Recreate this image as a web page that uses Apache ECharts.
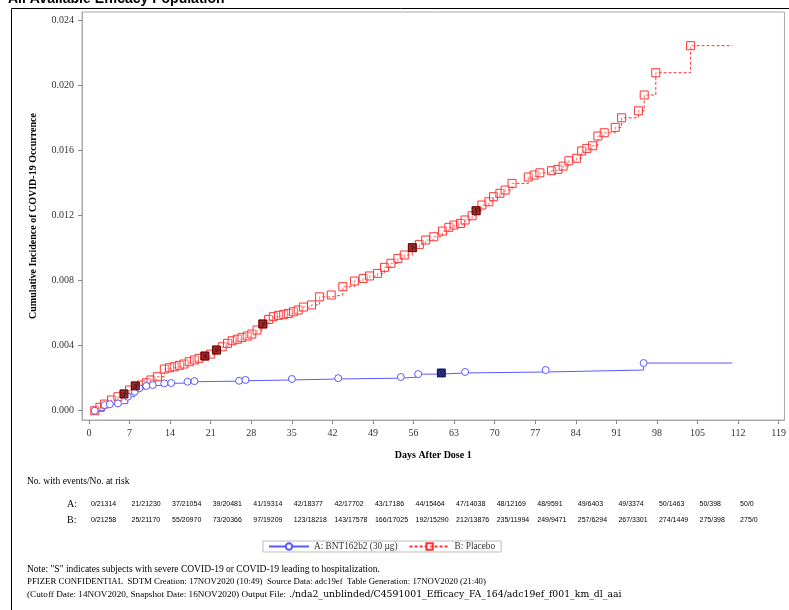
<!DOCTYPE html>
<html><head><meta charset="utf-8">
<script src="https://cdn.jsdelivr.net/npm/echarts@6/dist/echarts.min.js"></script>
<style>html,body{margin:0;padding:0;background:#fff}#c{width:789px;height:610px}</style>
</head><body><div id="c"></div>
<script>
// ---- data ----
const xTicks = [0,7,14,21,28,35,42,49,56,63,70,77,84,91,98,105,112,119];
const yTicks = [0,0.004,0.008,0.012,0.016,0.020,0.024];

const blueDays = [1.0,2.7,3.6,5.0,6.7,7.9,8.7,9.9,11.0,13.0,14.2,17.0,18.2,25.9,27.0,35.0,43.0,53.8,56.8,60.8,64.9,78.8,95.7];
const blueVals = [0.00000,0.00035,0.00040,0.00045,0.00086,0.00117,0.00138,0.00152,0.00158,0.00168,0.00170,0.00178,0.00182,0.00184,0.00189,0.00195,0.00200,0.00207,0.00225,0.00232,0.00238,0.00250,0.00293];
const blueEndDay = 111;

const redDays = [1.0,1.9,2.7,3.9,5.0,6.05,7.0,8.0,9.0,9.9,10.7,11.8,13.0,13.9,14.7,15.6,16.4,17.3,18.2,19.0,20.0,21.0,22.0,23.0,23.9,24.7,25.6,26.4,27.3,28.1,29.0,30.0,31.0,31.8,32.7,33.6,34.4,35.3,36.1,37.0,38.4,39.8,41.8,43.8,45.8,47.3,48.4,49.8,51.0,52.1,53.3,54.4,55.8,57.0,58.1,59.5,61.0,62.1,63.0,64.1,64.9,66.1,66.8,67.8,69.0,69.8,70.9,71.8,73.0,75.8,76.8,77.8,79.8,80.9,81.8,82.8,84.1,85.0,85.9,86.9,87.8,88.9,90.8,91.9,94.8,95.8,97.8,103.8];
const redVals = [0.00000,0.00021,0.00041,0.00066,0.00086,0.00103,0.00127,0.00152,0.00158,0.00172,0.00189,0.00209,0.00256,0.00264,0.00270,0.00279,0.00287,0.00301,0.00312,0.00322,0.00336,0.00348,0.00373,0.00393,0.00414,0.00430,0.00439,0.00449,0.00459,0.00471,0.00496,0.00533,0.00561,0.00578,0.00586,0.00592,0.00598,0.00608,0.00619,0.00637,0.00650,0.00700,0.00711,0.00762,0.00797,0.00813,0.00828,0.00844,0.00881,0.00906,0.00936,0.00957,0.01002,0.01022,0.01049,0.01069,0.01104,0.01127,0.01141,0.01151,0.01172,0.01198,0.01229,0.01264,0.01284,0.01315,0.01336,0.01356,0.01397,0.01436,0.01448,0.01462,0.01475,0.01483,0.01503,0.01536,0.01551,0.01596,0.01612,0.01628,0.01688,0.01708,0.01741,0.01800,0.01843,0.01940,0.02077,0.02243];
const redEndDay = 111;

const severeRedDays = [6.05,8.0,20.0,22.0,30.0,55.8,66.8];
const severeRedVals = [0.00103,0.00152,0.00336,0.00373,0.00533,0.01002,0.01229];
const severeBlueDays = [60.8];
const severeBlueVals = [0.00232];

const riskDays = [0,7,14,21,28,35,42,49,56,63,70,77,84,91,98,105,112];
const riskA = ['0/21314','21/21230','37/21054','39/20481','41/19314','42/18377','42/17702','43/17186','44/15464','47/14038','48/12169','48/9591','49/6403','49/3374','50/1463','50/398','50/0'];
const riskB = ['0/21258','25/21170','55/20970','73/20366','97/19209','123/18218','143/17578','166/17025','192/15290','212/13876','235/11994','249/9471','257/6294','267/3301','274/1449','275/398','275/0'];

const nameA = 'A: BNT162b2 (30 µg)';
const nameB = 'B: Placebo';

// ---- build ----
function pairs(d, v, endDay){
  const out = d.map((x,i)=>[x,v[i]]);
  if (endDay != null) out.push({value:[endDay, v[v.length-1]], symbol:'none'});
  return out;
}
const SERIF = '"Liberation Serif","Times New Roman",serif';
const BLUE = '#5a5aff', RED = '#ff3333';

const chart = echarts.init(document.getElementById('c'), null, {renderer:'canvas'});
const option = {
  animation:false,
  textStyle:{fontFamily:SERIF},
  grid:{left:82, top:12, right:4, bottom:190, show:true, borderColor:'#aaa', borderWidth:1},
  xAxis:{type:'value', min:-1.2, max:120,
    name:'Days After Dose 1', nameLocation:'middle', nameGap:30,
    nameTextStyle:{fontFamily:SERIF, fontWeight:'bold', fontSize:10, color:'#000'},
    axisLine:{onZero:false, lineStyle:{color:'#aaa'}},
    axisTick:{show:true, length:4, lineStyle:{color:'#888'}, customValues:xTicks},
    axisLabel:{fontFamily:SERIF, fontSize:10, color:'#333', margin:8, customValues:xTicks},
    splitLine:{show:false}},
  yAxis:{type:'value', min:-0.00057, max:0.0245,
    name:'Cumulative Incidence of COVID-19 Occurrence', nameLocation:'middle', nameGap:44, nameRotate:90,
    nameTextStyle:{fontFamily:SERIF, fontWeight:'bold', fontSize:10, color:'#000'},
    axisLine:{onZero:false, lineStyle:{color:'#aaa'}},
    axisTick:{show:true, length:4, lineStyle:{color:'#888'}, customValues:yTicks},
    axisLabel:{fontFamily:SERIF, fontSize:10, color:'#333', margin:8, customValues:yTicks, formatter:v=>v.toFixed(3)},
    splitLine:{show:false}},
  legend:{orient:'horizontal', left:263, top:541, itemWidth:40, itemHeight:8, itemGap:11,
    padding:[1,6,1,5], borderColor:'#bbb', borderWidth:1,
    textStyle:{fontFamily:SERIF, fontSize:9.3, color:'#333', padding:[0,0,0,0]},
    data:[nameA, nameB]},
  series:[
    {name:nameA, type:'line', step:'end', data:pairs(blueDays, blueVals, blueEndDay),
     symbol:'circle', symbolSize:7, showAllSymbol:true,
     itemStyle:{color:'#fff', borderColor:BLUE, borderWidth:1},
     lineStyle:{color:BLUE, width:1}, z:3},
    {name:nameB, type:'line', step:'end', data:pairs(redDays, redVals, redEndDay),
     symbol:'rect', symbolSize:8, showAllSymbol:true,
     itemStyle:{color:'rgba(255,255,255,0.3)', borderColor:RED, borderWidth:1},
     lineStyle:{color:RED, width:1, type:[3,2]}, z:2},
    {name:'severeB', type:'scatter', data:severeRedDays.map((d,i)=>[d,severeRedVals[i]]),
     symbol:'rect', symbolSize:8, itemStyle:{color:'#7a0000', borderColor:'#500000', borderWidth:1},
     label:{show:true, formatter:'S', position:'inside', fontSize:6, color:'#000', fontFamily:SERIF}, z:5},
    {name:'severeA', type:'scatter', data:severeBlueDays.map((d,i)=>[d,severeBlueVals[i]]),
     symbol:'rect', symbolSize:8, itemStyle:{color:'#000066', borderColor:'#000044', borderWidth:1},
     label:{show:true, formatter:'S', position:'inside', fontSize:6, color:'#000', fontFamily:SERIF}, z:5}
  ]
};
chart.setOption(option);

// ---- annotations: title fragment, frame, risk table, notes ----
const g = [];
g.push({type:'line', shape:{x1:11.5,y1:8.5,x2:789,y2:8.5}, style:{stroke:'#000', lineWidth:1}});
g.push({type:'line', shape:{x1:11.5,y1:8.5,x2:11.5,y2:610}, style:{stroke:'#000', lineWidth:1}});
g.push({type:'text', x:8, y:6, style:{text:'All Available Efficacy Population', font:'bold 14px "Liberation Sans", Arial, sans-serif', fill:'#000', verticalAlign:'bottom'}});
g.push({type:'text', x:27, y:481, style:{text:'No. with events/No. at risk', font:'9.5px '+SERIF, fill:'#000', verticalAlign:'middle'}});
g.push({type:'text', x:67, y:504, style:{text:'A:', font:'10px '+SERIF, fill:'#000', verticalAlign:'middle'}});
g.push({type:'text', x:67, y:520, style:{text:'B:', font:'10px '+SERIF, fill:'#000', verticalAlign:'middle'}});
riskDays.forEach((d,i)=>{
  const px = chart.convertToPixel({xAxisIndex:0}, d);
  g.push({type:'text', x:px+2, y:504, style:{text:riskA[i], font:'7px "Liberation Sans", sans-serif', fill:'#000', verticalAlign:'middle'}});
  g.push({type:'text', x:px+2, y:520, style:{text:riskB[i], font:'7px "Liberation Sans", sans-serif', fill:'#000', verticalAlign:'middle'}});
});
g.push({type:'text', x:27, y:569, style:{text:'Note: "S" indicates subjects with severe COVID-19 or COVID-19 leading to hospitalization.', font:'9.5px '+SERIF, fill:'#000', verticalAlign:'middle'}});
g.push({type:'text', x:27, y:582, style:{text:'PFIZER CONFIDENTIAL  SDTM Creation: 17NOV2020 (10:49)  Source Data: adc19ef  Table Generation: 17NOV2020 (21:40)', font:'8.8px '+SERIF, fill:'#000', verticalAlign:'middle'}});
g.push({type:'text', x:27, y:595, style:{text:'(Cutoff Date: 14NOV2020, Snapshot Date: 16NOV2020) Output File:', font:'9.2px '+SERIF, fill:'#000', verticalAlign:'middle'}});
g.push({type:'text', x:289, y:595, style:{text:'./nda2_unblinded/C4591001_Efficacy_FA_164/adc19ef_f001_km_dl_aai', font:'9.3px "DejaVu Serif", serif', fill:'#000', verticalAlign:'middle'}});
chart.setOption({graphic:g});
</script></body></html>
